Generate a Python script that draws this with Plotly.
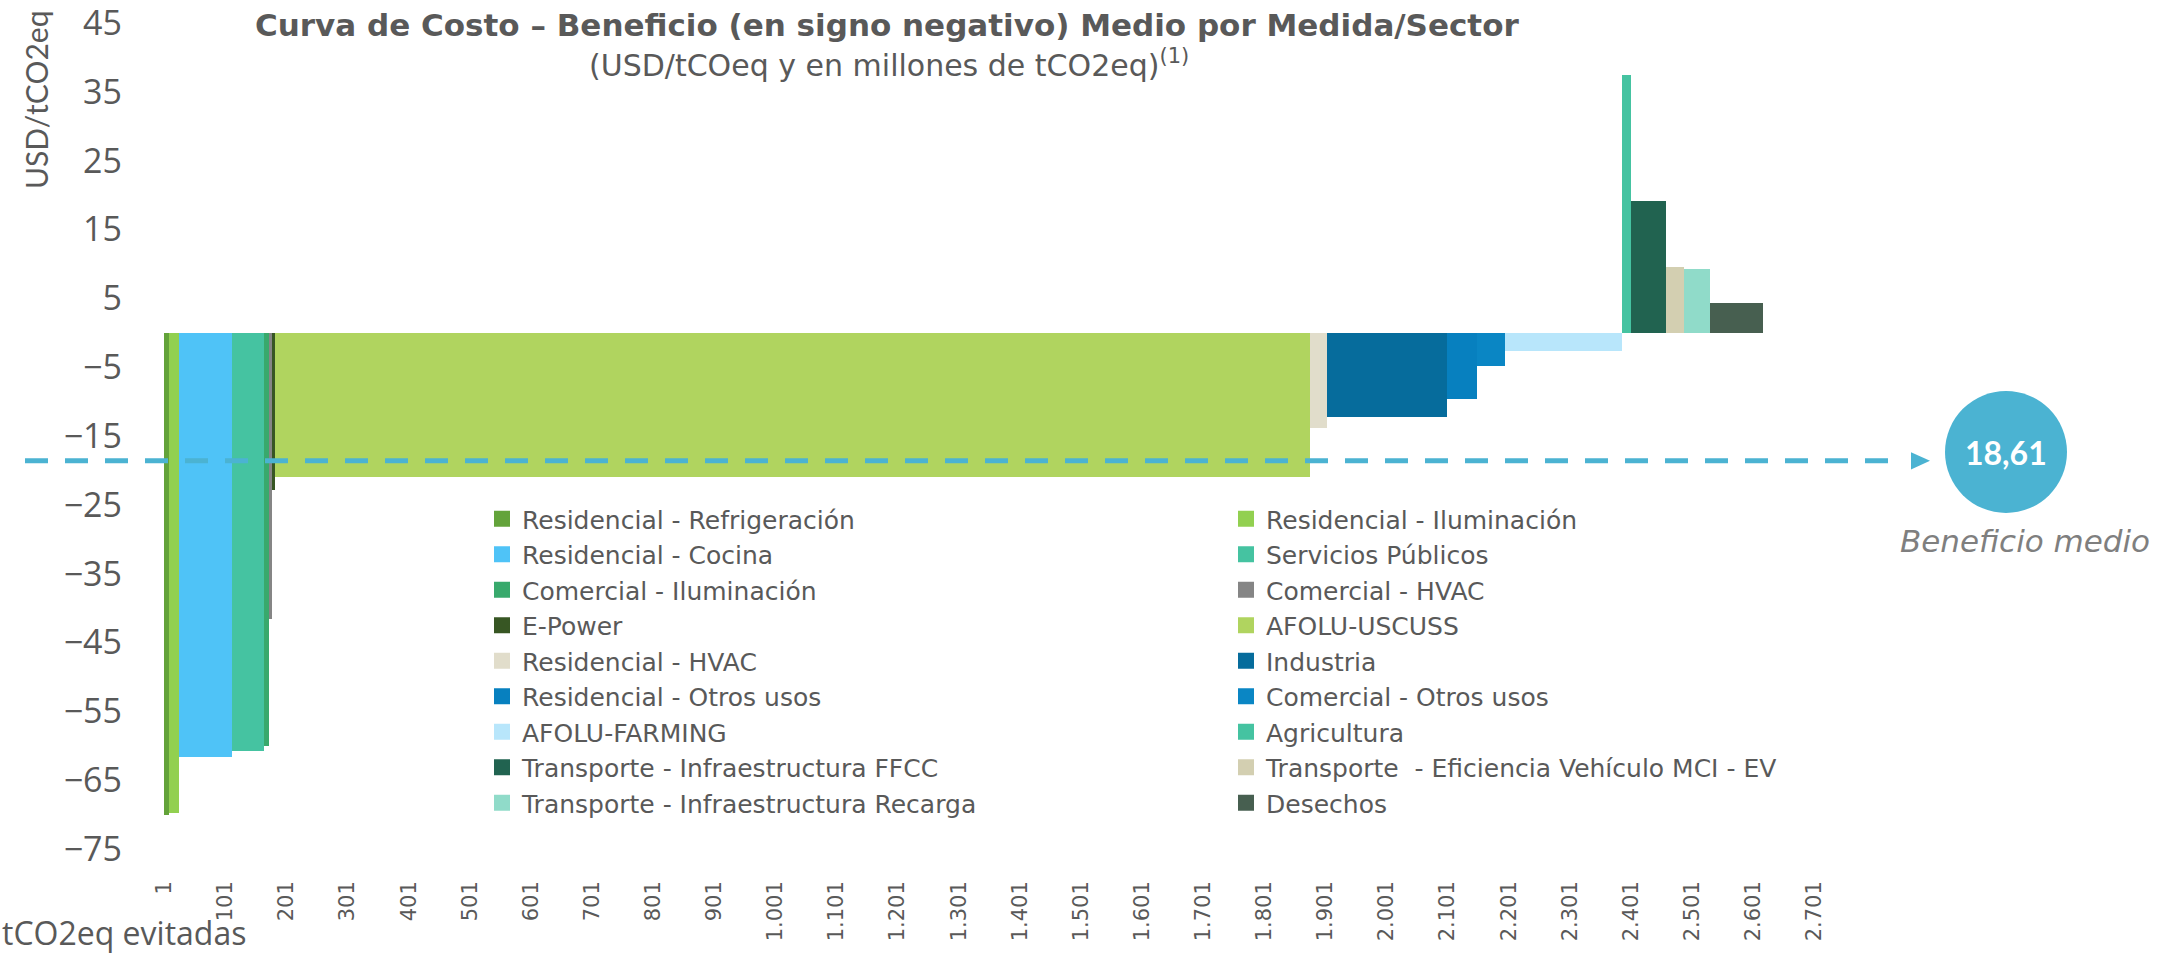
import plotly.graph_objects as go

# Medidas de mitigación, en el orden de la curva
medidas = [
    "Residencial - Refrigeración", "Residencial - Iluminación",
    "Residencial - Cocina", "Servicios Públicos",
    "Comercial - Iluminación", "Comercial - HVAC",
    "E-Power", "AFOLU-USCUSS",
    "Residencial - HVAC", "Industria",
    "Residencial - Otros usos", "Comercial - Otros usos",
    "AFOLU-FARMING", "Agricultura",
    "Transporte - Infraestructura FFCC", "Transporte  - Eficiencia Vehículo MCI - EV",
    "Transporte - Infraestructura Recarga", "Desechos",
]
# Millones de tCO2eq evitadas por medida (ancho de cada barra)
toneladas = [8, 17, 86, 52, 9, 5, 4, 1694, 28, 197, 49, 46, 191, 15, 56, 30, 43, 87]
# Costo medio en USD/tCO2eq (beneficio en signo negativo)
costo = [-70.1, -69.8, -61.6, -60.8, -60.1, -41.6, -22.8, -21.0, -13.8, -12.3,
         -9.6, -4.8, -2.6, 37.4, 19.1, 9.6, 9.3, 4.3]
colores = [
    "#63a33a", "#92d050", "#4fc3f7", "#45c3a1", "#38a96c", "#858585",
    "#375623", "#b0d45f", "#e1ddcb", "#066c9c", "#0780bf", "#0a86c4",
    "#b8e6fb", "#45c3a1", "#216350", "#d3cfb1", "#90dbc9", "#475f50",
]
beneficio_medio = 18.61

# Ejes
y_ticks = list(range(-75, 46, 10))
x_ticks = [1 + 100 * k for k in range(28)]
x_ticktext = [f"{v:,}".replace(",", ".") for v in x_ticks]
x_max = 2790

GRIS = "#595959"
AZUL = "#4bb3d2"

fig = go.Figure()

inicio = 0
for nombre, ancho, valor, color in zip(medidas, toneladas, costo, colores):
    fig.add_trace(go.Bar(
        x=[inicio], y=[valor], width=[ancho], offset=0,
        marker=dict(color=color, line=dict(width=0)),
        name=nombre, legendgroup=nombre, showlegend=False,
        hovertemplate=f"{nombre}<br>%{{y}} USD/tCO2eq<extra></extra>",
    ))
    # entrada de leyenda con símbolo cuadrado
    fig.add_trace(go.Scatter(
        x=[None], y=[None], mode="markers", name=nombre, legendgroup=nombre,
        marker=dict(symbol="square", size=16, color=color),
    ))
    inicio += ancho

# Conversión de píxeles a coordenadas de papel
W, H = 2180, 954
ML, MR, MT, MB = 164, 311, 23, 105
PW, PH = W - ML - MR, H - MT - MB


def px(xp):
    return (xp - ML) / PW


def py(yp):
    return 1 - (yp - MT) / PH


shapes = [
    # línea del beneficio medio
    dict(type="line", xref="paper", yref="y", x0=px(25), x1=px(1900),
         y0=-beneficio_medio, y1=-beneficio_medio,
         line=dict(color=AZUL, width=5, dash="23px,17px"), layer="above"),
    # punta de flecha
    dict(type="path", xref="paper", yref="y",
         path=(f"M {px(1911)} {-beneficio_medio + 1.25} L {px(1930)} {-beneficio_medio} "
               f"L {px(1911)} {-beneficio_medio - 1.25} Z"),
         fillcolor=AZUL, line=dict(width=0), layer="above"),
    # círculo con el valor
    dict(type="circle", xref="paper", yref="paper",
         x0=px(1945), x1=px(2067), y0=py(513), y1=py(391),
         fillcolor=AZUL, line=dict(width=0), layer="above"),
]

annotations = [
    dict(text="<b>Curva de Costo – Beneficio (en signo negativo) Medio por Medida/Sector</b>",
         xref="paper", yref="paper", x=px(887), y=py(25), showarrow=False,
         xanchor="center", yanchor="middle",
         font=dict(family="DejaVu Sans", size=31, color=GRIS)),
    dict(text="(USD/tCOeq y en millones de tCO2eq)<sup>(1)</sup>",
         xref="paper", yref="paper", x=px(889), y=py(64), showarrow=False,
         xanchor="center", yanchor="middle",
         font=dict(family="DejaVu Sans", size=30, color=GRIS)),
    dict(text="USD/tCO2eq", textangle=-90,
         xref="paper", yref="paper", x=px(36), y=py(100), showarrow=False,
         xanchor="center", yanchor="middle",
         font=dict(family="Lato", size=30, color=GRIS)),
    dict(text="tCO2eq evitadas",
         xref="paper", yref="paper", x=px(0), y=py(932), showarrow=False,
         xanchor="left", yanchor="middle",
         font=dict(family="Open Sans", size=32, color=GRIS)),
    dict(text=f"<b>{beneficio_medio:.2f}</b>".replace(".", ","),
         xref="paper", yref="paper", x=px(2006), y=py(452), showarrow=False,
         xanchor="center", yanchor="middle",
         font=dict(family="Lato", size=32, color="white")),
    dict(text="<i>Beneficio medio</i>",
         xref="paper", yref="paper", x=px(2025), y=py(541), showarrow=False,
         xanchor="center", yanchor="middle",
         font=dict(family="DejaVu Sans", size=31, color="#7f7f7f")),
]

fig.update_layout(
    width=W, height=H,
    margin=dict(l=ML, r=MR, t=MT, b=MB, pad=0, autoexpand=False),
    paper_bgcolor="white", plot_bgcolor="white",
    barmode="overlay", bargap=0,
    shapes=shapes, annotations=annotations,
    showlegend=True,
    legend=dict(
        orientation="h", x=px(482), y=py(496), xanchor="left", yanchor="top",
        entrywidth=699, entrywidthmode="pixels",
        bgcolor="rgba(0,0,0,0)", borderwidth=0,
        font=dict(family="DejaVu Sans", size=25, color=GRIS),
        traceorder="normal",
    ),
    xaxis=dict(
        range=[0, x_max], tickmode="array", automargin=False,
        tickvals=[v - 0.5 for v in x_ticks], ticktext=x_ticktext,
        tickangle=-90, ticks="", showgrid=False, zeroline=False, showline=False,
        tickfont=dict(family="DejaVu Sans", size=21, color=GRIS),
        ticklabelstandoff=27, ticklabeloverflow="allow",
    ),
    yaxis=dict(
        range=[-75, 45], tickmode="array", tickvals=y_ticks, automargin=False,
        ticks="", showgrid=False, zeroline=False, showline=False,
        tickfont=dict(family="Open Sans", size=34, color=GRIS),
        ticklabelstandoff=41, ticklabeloverflow="allow",
    ),
)

fig.write_html("out.html")
